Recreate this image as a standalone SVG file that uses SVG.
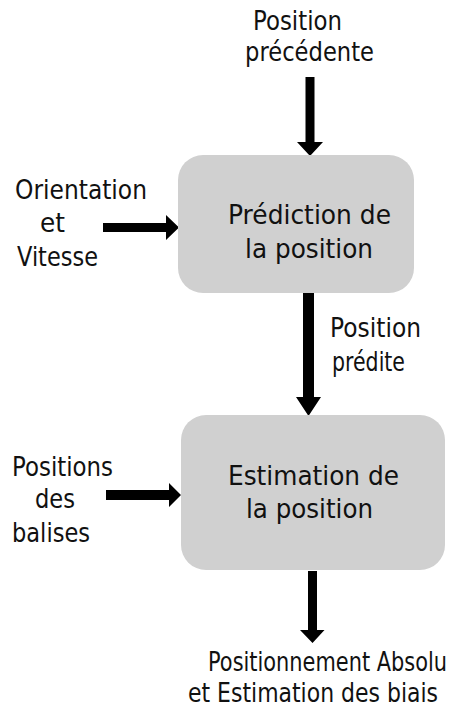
<svg xmlns="http://www.w3.org/2000/svg" width="472" height="709" viewBox="0 0 472 709">
<style>
text{font-family:"DejaVu Sans","Liberation Sans",sans-serif;font-size:27px;fill:#111}
.sm{font-size:26px}
.box{fill:#d0d0d0}
.arr{fill:#000}
</style>
<rect width="472" height="709" fill="#fff"/>
<g id="connectors">
<path class="arr" d="M305.5,77H314.5V142H323L310,156L297,142H305.5Z"/>
<path class="arr" d="M103,223H166V215L179,227.5L166,240V232H103Z"/>
<path class="arr" d="M303,293H314V397H321L308.5,416L296,397H303Z"/>
<path class="arr" d="M106,490H169V483L181,495L169,507V500H106Z"/>
<path class="arr" d="M308,571H317V630H324.5L312.5,643L300,630H308Z"/>
</g>
<g id="label-precedente">
<text x="253" y="30" textLength="89" lengthAdjust="spacingAndGlyphs">Position</text>
<text x="245" y="61" textLength="129" lengthAdjust="spacingAndGlyphs">précédente</text>
</g>
<g id="label-orientation">
<text x="15" y="199" textLength="132" lengthAdjust="spacingAndGlyphs">Orientation</text>
<text x="40" y="232" textLength="25" lengthAdjust="spacingAndGlyphs">et</text>
<text x="17" y="266" textLength="81" lengthAdjust="spacingAndGlyphs">Vitesse</text>
</g>
<g id="node-prediction">
<rect class="box" x="178" y="155" width="236" height="138" rx="25"/>
<text x="228" y="224" textLength="163" lengthAdjust="spacingAndGlyphs">Prédiction de</text>
<text x="245" y="258" textLength="128" lengthAdjust="spacingAndGlyphs">la position</text>
</g>
<g id="label-predite">
<text x="330" y="337" textLength="91" lengthAdjust="spacingAndGlyphs">Position</text>
<text x="332" y="371" textLength="73" lengthAdjust="spacingAndGlyphs">prédite</text>
</g>
<g id="label-balises">
<text x="12" y="476" textLength="101" lengthAdjust="spacingAndGlyphs">Positions</text>
<text x="35" y="508" textLength="40" lengthAdjust="spacingAndGlyphs">des</text>
<text x="12" y="542" textLength="78" lengthAdjust="spacingAndGlyphs">balises</text>
</g>
<g id="node-estimation">
<rect class="box" x="181" y="415" width="264" height="155" rx="25"/>
<text x="228" y="485" textLength="171" lengthAdjust="spacingAndGlyphs">Estimation de</text>
<text x="246" y="518" textLength="127" lengthAdjust="spacingAndGlyphs">la position</text>
</g>
<g id="label-output">
<text class="sm" transform="translate(208,671) scale(0.8,1)" x="0" y="0" textLength="298.75" lengthAdjust="spacingAndGlyphs">Positionnement Absolu</text>
<text class="sm" transform="translate(188,702) scale(0.845,1)" x="0" y="0" textLength="295.86" lengthAdjust="spacingAndGlyphs">et Estimation des biais</text>
</g>
</svg>
